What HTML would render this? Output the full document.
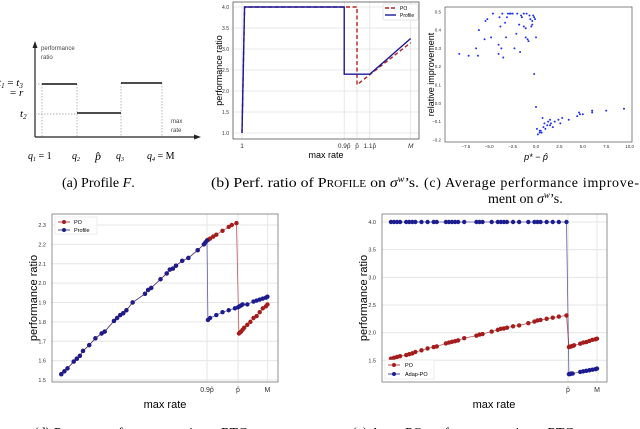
<!DOCTYPE html>
<html><head><meta charset="utf-8"><style>
body{margin:0;background:#fff}
svg{display:block}
.sans{font-family:"Liberation Sans","DejaVu Sans",sans-serif}
.serif{font-family:"Liberation Serif",serif}
</style></head><body>
<svg id="fig" width="640" height="429" viewBox="0 0 640 429" xmlns="http://www.w3.org/2000/svg">
<g id="pa">
<line x1="35" y1="137" x2="35" y2="44" stroke="#222" stroke-width="1.2"/>
<polygon points="35,41 32.5,48 37.5,48" fill="#222"/>
<line x1="35" y1="137" x2="198" y2="137" stroke="#222" stroke-width="1.2"/>
<polygon points="201,137 194,134.5 194,139.5" fill="#222"/>
<g stroke="#999" stroke-width="0.7" stroke-dasharray="1.5,1.5">
<line x1="42" y1="84" x2="42" y2="137"/><line x1="77" y1="84" x2="77" y2="137"/>
<line x1="121" y1="83" x2="121" y2="137"/><line x1="162" y1="83" x2="162" y2="137"/>
<line x1="35" y1="84" x2="42" y2="84"/><line x1="35" y1="114" x2="77" y2="114"/>
</g>
<g stroke="#111" stroke-width="1.5">
<line x1="42" y1="84" x2="77" y2="84"/><line x1="77" y1="113" x2="121" y2="113"/><line x1="121" y1="83" x2="162" y2="83"/>
</g>
<text class="sans" x="41" y="50" font-size="6" fill="#444">performance</text>
<text class="sans" x="41" y="59" font-size="6" fill="#444">ratio</text>
<text class="sans" x="171" y="123" font-size="6" fill="#444">max</text>
<text class="sans" x="171" y="132" font-size="6" fill="#444">rate</text>
<text class="serif" x="-2" y="86" font-size="11" font-style="italic">t<tspan font-size="7" dy="2">1</tspan><tspan dy="-2" font-style="normal"> = </tspan>t<tspan font-size="7" dy="2">3</tspan></text>
<text class="serif" x="10" y="96" font-size="11">= <tspan font-style="italic">r</tspan></text>
<text class="serif" x="20" y="117" font-size="11" font-style="italic">t<tspan font-size="7" dy="2">2</tspan></text>
<text class="serif" x="28" y="159" font-size="10" font-style="italic">q<tspan font-size="6" dy="2">1</tspan><tspan dy="-2" font-style="normal"> = 1</tspan></text>
<text class="serif" x="72" y="159" font-size="10" font-style="italic">q<tspan font-size="6" dy="2">2</tspan></text>
<text class="serif" x="95" y="160" font-size="12" font-style="italic">p̂</text>
<text class="serif" x="116" y="159" font-size="10" font-style="italic">q<tspan font-size="6" dy="2">3</tspan></text>
<text class="serif" x="147" y="159" font-size="10" font-style="italic">q<tspan font-size="6" dy="2">4</tspan><tspan dy="-2" font-style="normal"> = M</tspan></text>
</g>
<g id="pb"></g>
<g id="pc"></g>
<g id="pd"></g>
<g id="pe"></g>
<text class="serif" x="62" y="187" font-size="14">(a) Profile <tspan font-style="italic">F</tspan>.</text>
<text class="serif" x="211" y="187" font-size="14" textLength="208" lengthAdjust="spacingAndGlyphs">(b) Perf. ratio of P<tspan font-size="10">ROFILE</tspan> on <tspan font-style="italic">σ</tspan><tspan font-size="9" dy="-5" font-style="italic">w</tspan><tspan dy="5">’s.</tspan></text>
<text class="serif" x="424" y="187" font-size="14" textLength="215" lengthAdjust="spacing">(c)  Average  performance  improve-</text>
<text class="serif" x="488" y="203" font-size="14">ment on <tspan font-style="italic">σ</tspan><tspan font-size="9" dy="-5" font-style="italic">w</tspan><tspan dy="5">’s.</tspan></text>
<text class="serif" x="34" y="437" font-size="14">(d) P<tspan font-size="10">ROFILE</tspan> performance ratio on RTC</text>
<text class="serif" x="352" y="437" font-size="14">(e) A<tspan font-size="10">DAP</tspan>-PO performance ratio on RTC</text>
</svg>
<script>
const bTickVals=[1,9,10,11,14.2];
const bTickLabels=["1","0.9p̂","p̂","1.1p̂","M"];
const bYTicks=[1.0,1.5,2.0,2.5,3.0,3.5,4.0];
const bProfileX=[1,1.2,9,9,11,14.2];
const bProfileY=[1.0,4.0,4.0,2.4,2.4,3.25];
const bPOX=[1,1.2,10,10,14.2];
const bPOY=[1.0,4.0,4.0,2.15,3.15];
const cX=[-8.2,-7.2,-6.1,-6.2,-6.4,-5.5,-5.4,-5.2,-4.8,-4.6,-4.0,-3.7,-3.9,-3.8,-3.5,-3.6,-3.3,-4.0,-3.2,-3.1,-3.0,-2.7,-2.5,-2.3,-2.1,-1.8,-1.7,-1.6,-1.5,-1.3,-1.3,-1.1,-1.1,-1.0,-0.9,-0.8,-0.7,-0.6,-0.5,-0.4,-0.3,-0.2,-0.1,0.0,-0.2,0.0,0.1,0.2,0.4,0.4,0.5,0.7,0.8,0.9,1.0,1.2,1.3,1.5,1.6,1.8,2.0,2.4,2.6,2.8,3.5,4.4,4.6,4.7,5.0,6.0,6.0,7.5,9.4,1.5,0.6,-2.8,-2.0,-0.4];
const cY=[0.27,0.26,0.40,0.26,0.30,0.35,0.45,0.46,0.36,0.49,0.32,0.30,0.47,0.42,0.25,0.49,0.44,0.27,0.36,0.47,0.49,0.49,0.49,0.30,0.38,0.43,0.28,0.48,0.47,0.42,0.49,0.36,0.41,0.49,0.35,0.34,0.48,0.46,0.42,0.45,0.48,0.47,0.46,0.36,0.16,-0.02,-0.14,-0.17,-0.16,-0.15,-0.15,-0.08,-0.13,-0.11,-0.14,-0.12,-0.10,-0.09,-0.11,-0.13,-0.10,-0.09,-0.11,-0.08,-0.09,-0.07,-0.05,-0.06,-0.06,-0.04,-0.05,-0.04,-0.03,-0.12,-0.16,0.49,0.49,0.43];
const cXTicks=[-7.5,-5.0,-2.5,0.0,2.5,5.0,7.5,10.0];
const cYTicks=[-0.2,-0.1,0.0,0.1,0.2,0.3,0.4,0.5];
const dTickVals=[90,100,109.5];
const dTickLabels=["0.9p̂","p̂","M"];
const dYTicks=[1.5,1.6,1.7,1.8,1.9,2.0,2.1,2.2,2.3];
const dCommonX=[43,44,45,47,48,49,50,52,54,56,57,60,61,62,63,64,66,70,71,72,75,77,78,79,80,82,84,87,89,89.5,90];
const dCommonY=[1.53,1.545,1.56,1.595,1.61,1.625,1.65,1.68,1.715,1.74,1.75,1.805,1.82,1.835,1.845,1.86,1.90,1.945,1.965,1.975,2.02,2.05,2.07,2.075,2.09,2.115,2.13,2.17,2.20,2.21,2.22];
const dPOTailX=[90.5,91,92,93,95,97,98,99.5,100.3,100.6,101,101.5,102,103,104,105,106,107,108,109,109.5];
const dPOTailY=[2.225,2.23,2.24,2.25,2.27,2.29,2.30,2.31,1.74,1.745,1.75,1.76,1.77,1.785,1.80,1.82,1.83,1.85,1.87,1.88,1.89];
const dProfTailX=[90.3,91,93,95,97,99,100,100.5,101,101.5,103,105,106,107,108,109,109.5];
const dProfTailY=[1.81,1.82,1.835,1.85,1.86,1.87,1.875,1.88,1.885,1.89,1.89,1.905,1.91,1.915,1.92,1.925,1.93];
const eTickVals=[100,109.5];
const eTickLabels=["p̂","M"];
const eYTicks=[1.5,2.0,2.5,3.0,3.5,4.0];
const ePOX=[42,43,44,45,47,48,49,50,52,54,56,57,60,61,62,63,64,66,70,71,72,75,77,78,79,80,82,84,87,89,90,91,93,95,97,99.5,100.3,100.6,101,101.5,102,104,105,106,107,108,109,109.5];
const ePOY=[1.53,1.545,1.56,1.575,1.595,1.61,1.625,1.65,1.68,1.715,1.74,1.75,1.805,1.82,1.835,1.845,1.86,1.90,1.945,1.965,1.975,2.02,2.05,2.07,2.075,2.09,2.115,2.13,2.17,2.20,2.22,2.23,2.25,2.27,2.29,2.31,1.74,1.745,1.75,1.76,1.77,1.80,1.82,1.83,1.85,1.87,1.88,1.89];
const eAdapX=[42,43,44,45,47,48,49,50,52,54,56,57,60,61,62,63,64,66,70,71,72,75,77,78,79,80,82,84,87,89,90,91,93,95,97,99.5,100.3,100.6,101,101.5,104,105,106,107,108,109,109.5];
const eAdapY=[4.0,4.0,4.0,4.0,4.0,4.0,4.0,4.0,4.0,4.0,4.0,4.0,4.0,4.0,4.0,4.0,4.0,4.0,4.0,4.0,4.0,4.0,4.0,4.0,4.0,4.0,4.0,4.0,4.0,4.0,4.0,4.0,4.0,4.0,4.0,4.0,1.25,1.25,1.26,1.26,1.29,1.30,1.31,1.32,1.33,1.34,1.35];

const NS="http://www.w3.org/2000/svg";
function mk(parent,tag,attrs,text){const e=document.createElementNS(NS,tag);for(const k in attrs)e.setAttribute(k,attrs[k]);if(text!==undefined)e.textContent=text;parent.appendChild(e);return e;}
function lin(d0,d1,r0,r1){return v=>r0+(v-d0)*(r1-r0)/(d1-d0);}
function pathD(xs,ys,sx,sy){return xs.map((x,i)=>(i?'L':'M')+sx(x).toFixed(2)+','+sy(ys[i]).toFixed(2)).join('');}

(function(){
const g=document.getElementById('pb');
const L=233,R=419,T=2,B=139;
const sx=lin(1,10,242,357), sy=lin(1.0,4.0,133,7);
mk(g,'rect',{x:L,y:T,width:R-L,height:B-T,fill:'#fff'});
bYTicks.forEach(v=>{mk(g,'line',{x1:L,x2:R,y1:sy(v),y2:sy(v),stroke:'#e2e2e2','stroke-width':0.8});
 const t=mk(g,'text',{x:L-4,y:sy(v)+2,'font-size':5,'text-anchor':'end',class:'sans',fill:'#333'},v.toFixed(1));
 });
bTickVals.forEach((v,i)=>{mk(g,'line',{x1:sx(v),x2:sx(v),y1:T,y2:B,stroke:'#e2e2e2','stroke-width':0.8});
 const t=mk(g,'text',{x:sx(v),y:B+9,'font-size':6.5,'text-anchor':'middle',class:'sans',fill:'#333','font-style':i==4?'italic':'normal'},bTickLabels[i]);
 });
const po=mk(g,'path',{d:pathD(bPOX,bPOY,sx,sy),fill:'none',stroke:'#b22222','stroke-width':1.4,'stroke-dasharray':'4,2.5'});

const pr=mk(g,'path',{d:pathD(bProfileX,bProfileY,sx,sy),fill:'none',stroke:'#1a1a9a','stroke-width':1.4});

mk(g,'rect',{x:L,y:T,width:R-L,height:B-T,fill:'none',stroke:'#555','stroke-width':0.8});
const lg=mk(g,'g',{});
mk(lg,'rect',{x:383,y:4,width:35,height:16,fill:'#fff',stroke:'#ccc','stroke-width':0.5,rx:1});
mk(lg,'line',{x1:385,x2:396,y1:8,y2:8,stroke:'#b22222','stroke-width':1.4,'stroke-dasharray':'4,2'});
mk(lg,'text',{x:400,y:10,'font-size':5,class:'sans'},'PO');
mk(lg,'line',{x1:385,x2:396,y1:15,y2:15,stroke:'#1a1a9a','stroke-width':1.4});
mk(lg,'text',{x:400,y:17,'font-size':5,class:'sans'},'Profile');
const yl=mk(g,'text',{x:0,y:0,'font-size':9,class:'sans','text-anchor':'middle',transform:`translate(222,${(T+B)/2}) rotate(-90)`},'performance ratio');

const xl=mk(g,'text',{x:326,y:158,'font-size':9,class:'sans','text-anchor':'middle'},'max rate');

})();

(function(){
const g=document.getElementById('pc');
const L=445,R=632,T=7,B=142;
const sx=lin(0,2.5,536,559.4), sy=lin(0,0.1,103.3,85);
mk(g,'rect',{x:L,y:T,width:R-L,height:B-T,fill:'#fff',stroke:'#666','stroke-width':0.8});
cYTicks.forEach(v=>{const t=mk(g,'text',{x:L-4,y:sy(v)+1.5,'font-size':4.5,'text-anchor':'end',class:'sans',fill:'#333'},(v<0?'−':'')+Math.abs(v).toFixed(1));
 });
cXTicks.forEach(v=>{const t=mk(g,'text',{x:sx(v),y:B+6,'font-size':4.5,'text-anchor':'middle',class:'sans',fill:'#333'},(v<0?'−':'')+Math.abs(v).toFixed(1));
 });
cX.forEach((x,i)=>{const c=mk(g,'circle',{cx:sx(x),cy:sy(cY[i]),r:1,fill:'#2233ee'});
 });
const yl=mk(g,'text',{x:0,y:0,'font-size':9,class:'sans','text-anchor':'middle',transform:`translate(434,${(T+B)/2}) rotate(-90)`},'relative improvement');

const xl=mk(g,'text',{x:536,y:160,'font-size':9,class:'sans','text-anchor':'middle','font-style':'italic'},'p* − p̂');

})();

function markerSeries(g,xs,ys,sx,sy,color,name){
 const p=mk(g,'path',{d:pathD(xs,ys,sx,sy),fill:'none',stroke:color,'stroke-width':0.8,'stroke-opacity':0.7});
 
 xs.forEach((x,i)=>{const c=mk(g,'circle',{cx:sx(x),cy:sy(ys[i]),r:2.2,fill:color});
  });
}
(function(){
const g=document.getElementById('pd');
const L=52,R=278,T=214,B=382;
const sx=lin(90,100,207,238), sy=lin(1.5,2.3,380,225);
mk(g,'rect',{x:L,y:T,width:R-L,height:B-T,fill:'#fff'});
dYTicks.forEach(v=>{mk(g,'line',{x1:L,x2:R,y1:sy(v),y2:sy(v),stroke:'#e6e6e6','stroke-width':1});
 const t=mk(g,'text',{x:L-6,y:sy(v)+2,'font-size':5.5,'text-anchor':'end',class:'sans',fill:'#333'},v.toFixed(1));
 });
dTickVals.forEach((v,i)=>{mk(g,'line',{x1:sx(v),x2:sx(v),y1:T,y2:B,stroke:'#e6e6e6','stroke-width':1});
 const t=mk(g,'text',{x:sx(v),y:B+10,'font-size':7,'text-anchor':'middle',class:'sans',fill:'#333'},dTickLabels[i]);
 });
markerSeries(g,dCommonX.concat(dPOTailX),dCommonY.concat(dPOTailY),sx,sy,'#a51c1c','po');
markerSeries(g,dCommonX.concat(dProfTailX),dCommonY.concat(dProfTailY),sx,sy,'#1c1c8f','profile');
mk(g,'rect',{x:L,y:T,width:R-L,height:B-T,fill:'none',stroke:'#777','stroke-width':0.8});
const lg=mk(g,'g',{});
mk(lg,'rect',{x:55,y:217,width:42,height:17,fill:'#fff',stroke:'#ddd','stroke-width':0.5});
mk(lg,'line',{x1:58,x2:70,y1:222,y2:222,stroke:'#a51c1c','stroke-width':0.8});
mk(lg,'circle',{cx:64,cy:222,r:2,fill:'#a51c1c'});
mk(lg,'text',{x:74,y:224,'font-size':5.5,class:'sans'},'PO');
mk(lg,'line',{x1:58,x2:70,y1:230,y2:230,stroke:'#1c1c8f','stroke-width':0.8});
mk(lg,'circle',{cx:64,cy:230,r:2,fill:'#1c1c8f'});
mk(lg,'text',{x:74,y:232,'font-size':5.5,class:'sans'},'Profile');
const yl=mk(g,'text',{x:0,y:0,'font-size':11,class:'sans','text-anchor':'middle',transform:`translate(37,${(T+B)/2}) rotate(-90)`},'performance ratio');

const xl=mk(g,'text',{x:165,y:408,'font-size':11,class:'sans','text-anchor':'middle'},'max rate');

})();

(function(){
const g=document.getElementById('pe');
const L=382,R=607,T=214,B=382;
const sx=lin(100,109.5,568,597), sy=lin(1.5,4.0,360.3,222);
mk(g,'rect',{x:L,y:T,width:R-L,height:B-T,fill:'#fff'});
eYTicks.forEach(v=>{mk(g,'line',{x1:L,x2:R,y1:sy(v),y2:sy(v),stroke:'#e6e6e6','stroke-width':1});
 const t=mk(g,'text',{x:L-6,y:sy(v)+2,'font-size':5.5,'text-anchor':'end',class:'sans',fill:'#333'},v.toFixed(1));
 });
eTickVals.forEach((v,i)=>{mk(g,'line',{x1:sx(v),x2:sx(v),y1:T,y2:B,stroke:'#e6e6e6','stroke-width':1});
 const t=mk(g,'text',{x:sx(v),y:B+10,'font-size':7,'text-anchor':'middle',class:'sans',fill:'#333'},eTickLabels[i]);
 });
markerSeries(g,eAdapX,eAdapY,sx,sy,'#1c1c8f','adap-po');
markerSeries(g,ePOX,ePOY,sx,sy,'#a51c1c','po');
mk(g,'rect',{x:L,y:T,width:R-L,height:B-T,fill:'none',stroke:'#777','stroke-width':0.8});
const lg=mk(g,'g',{});
mk(lg,'rect',{x:385,y:360,width:49,height:19,fill:'#fff',stroke:'#ddd','stroke-width':0.5});
mk(lg,'line',{x1:388,x2:400,y1:365,y2:365,stroke:'#a51c1c','stroke-width':0.8});
mk(lg,'circle',{cx:394,cy:365,r:2,fill:'#a51c1c'});
mk(lg,'text',{x:405,y:367,'font-size':5.5,class:'sans'},'PO');
mk(lg,'line',{x1:388,x2:400,y1:374,y2:374,stroke:'#1c1c8f','stroke-width':0.8});
mk(lg,'circle',{cx:394,cy:374,r:2,fill:'#1c1c8f'});
mk(lg,'text',{x:405,y:376,'font-size':5.5,class:'sans'},'Adap-PO');
const yl=mk(g,'text',{x:0,y:0,'font-size':11,class:'sans','text-anchor':'middle',transform:`translate(367,${(T+B)/2}) rotate(-90)`},'performance ratio');

const xl=mk(g,'text',{x:494,y:408,'font-size':11,class:'sans','text-anchor':'middle'},'max rate');

})();
</script>
</body></html>
